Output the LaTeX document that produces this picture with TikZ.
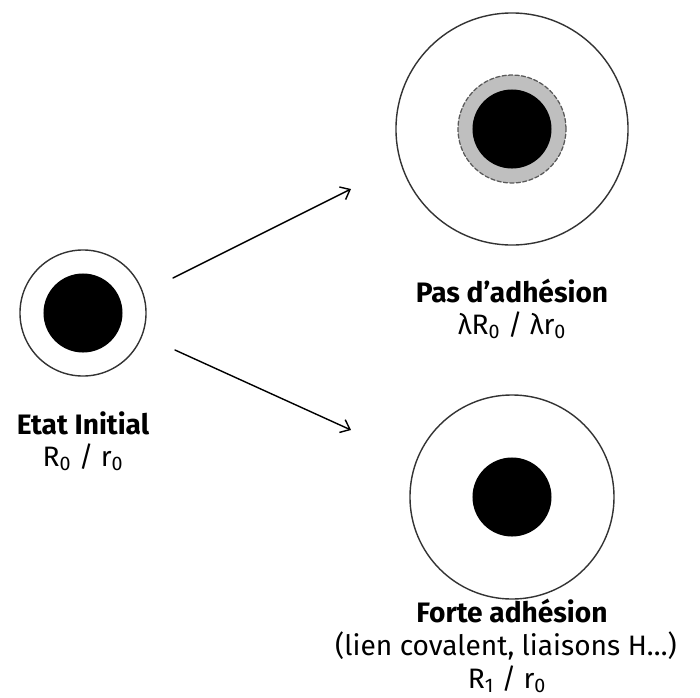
\documentclass[tikz,border=0pt]{standalone}
\usepackage{fontspec}
\setmainfont{Fira Sans}
\usetikzlibrary{arrows.meta}
\tikzset{
  ring/.style={circle, draw=black!80, line width=1pt, inner sep=0pt},
  core/.style={circle, fill=black, inner sep=0pt, minimum size=1.975cm},
  halo/.style={circle, fill=black!25, draw=black!65, dash pattern=on 3pt off 1.6pt, line width=0.9pt, inner sep=0pt},
  lbl/.style={anchor=base, inner sep=0pt, font=\fontsize{20}{24}\selectfont},
  ttl/.style={lbl, font=\fontsize{20}{24}\selectfont\bfseries}
}
\begin{document}
\begin{tikzpicture}[x=0.025cm,y=-0.025cm,line join=round,line cap=round,>={Straight Barb[length=6pt,width=10pt]}]
\useasboundingbox (0,0) rectangle (700,698);
\path
(83,313) coordinate (I)
(512,129) coordinate (P)
(512,497) coordinate (F)
(173,278) coordinate (u1)
(351,189) coordinate (u2)
(175,350) coordinate (d1)
(351,430) coordinate (d2)
;
% etat initial
\node[ring, minimum size=3.15cm] (ini) at (I) {};
\node[core] (ini-c) at (I) {};
% pas d'adhesion
\node[ring, minimum size=5.8cm] (pas) at (P) {};
\node[halo, minimum size=2.7cm] (pas-h) at (P) {};
\node[core] (pas-c) at (P) {};
% forte adhesion
\node[ring, minimum size=5.1cm] (forte) at (F) {};
\node[core] (forte-c) at (F) {};
\draw[->, line width=1pt] (u1)--(u2);
\draw[->, line width=1pt] (d1)--(d2);
% textes
\node[ttl] (ini-t) at (83,434) {Etat Initial};
\node[lbl] (ini-r) at (83,466) {R\textsubscript{0} / r\textsubscript{0}};
\node[ttl] (pas-t) at (512,302) {Pas d'adhésion};
\node[lbl] (pas-r) at (512,334) {λR\textsubscript{0} / λr\textsubscript{0}};
\node[ttl] (forte-t) at (512,622) {Forte adhésion};
\node[lbl] (forte-l) at (506,655) {(lien covalent, liaisons H…)};
\node[lbl] (forte-r) at (507,688) {R\textsubscript{1} / r\textsubscript{0}};
\end{tikzpicture}
\end{document}
